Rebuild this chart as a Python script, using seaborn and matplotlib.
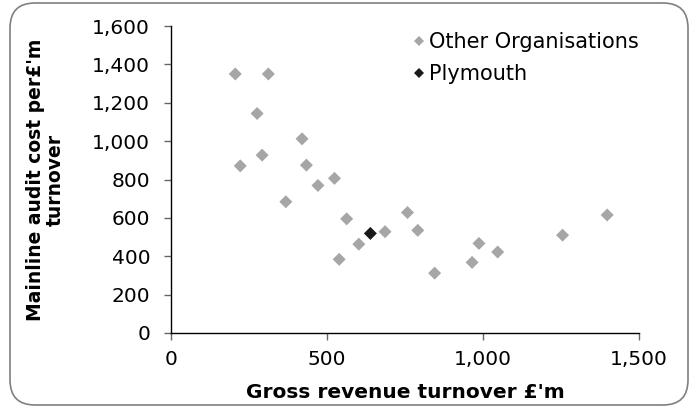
import matplotlib
matplotlib.use('Agg')
import matplotlib.pyplot as plt
import pandas as pd
import seaborn as sns
from matplotlib.patches import FancyBboxPatch
from matplotlib.transforms import IdentityTransform

# Data
other_revenue = [206, 312, 276, 420, 222, 292, 434, 471, 524, 368, 563, 758,
                 539, 602, 686, 791, 845, 965, 987, 1047, 1255, 1398]
other_cost = [1350, 1350, 1144, 1012, 871, 927, 875, 769, 806, 684, 595, 628,
              384, 463, 528, 535, 312, 368, 467, 422, 510, 615]
plymouth_revenue = [639]
plymouth_cost = [519]
series_names = ['Other Organisations', 'Plymouth']
series_colors = ['#a6a6a6', '#1a1a1a']
x_ticks = [0, 500, 1000, 1500]
y_ticks = [0, 200, 400, 600, 800, 1000, 1200, 1400, 1600]

df = pd.DataFrame({
    'revenue': other_revenue + plymouth_revenue,
    'cost': other_cost + plymouth_cost,
    'series': [series_names[0]] * len(other_revenue) + [series_names[1]] * len(plymouth_revenue),
})

sns.set_theme(style='white')
plt.rcParams['font.family'] = ['DejaVu Sans']
plt.rcParams['text.color'] = 'black'
plt.rcParams['axes.labelcolor'] = 'black'
plt.rcParams['xtick.labelcolor'] = 'black'
plt.rcParams['ytick.labelcolor'] = 'black'

fig = plt.figure(figsize=(6.93, 4.07), dpi=100)
ax = fig.add_axes([171 / 693, 1 - 333 / 407, 468 / 693, 307 / 407])

sns.scatterplot(data=df, x='revenue', y='cost', hue='series', hue_order=series_names,
                palette=series_colors, marker='D', s=44, linewidth=0, ax=ax)

ax.set_xlim(0, 1500)
ax.set_ylim(0, 1600)
ax.set_xticks(x_ticks)
ax.set_yticks(y_ticks)
ax.set_xticklabels([f'{v:,}' for v in x_ticks], fontsize=14.5)
ax.set_yticklabels([f'{v:,}' for v in y_ticks], fontsize=14.5)
ax.tick_params(axis='both', direction='out', length=5, width=1, color='#666666',
               bottom=True, left=True)
ax.tick_params(axis='x', pad=7)
ax.tick_params(axis='y', pad=10)

for side in ['top', 'right']:
    ax.spines[side].set_visible(False)
for side in ['left', 'bottom']:
    ax.spines[side].set_color('black')
    ax.spines[side].set_linewidth(1)

ax.set_xlabel("Gross revenue turnover £'m", fontsize=14.5, fontweight='bold', labelpad=10.5)
ax.set_ylabel("Mainline audit cost per£'m\nturnover", fontsize=13.5, fontweight='bold',
              labelpad=20, linespacing=1.0)

leg = ax.legend(loc='upper left', bbox_to_anchor=(400 / 693, 1 - 22 / 407),
                bbox_transform=fig.transFigure, frameon=False, fontsize=15,
                handletextpad=0.1, handlelength=0.8, labelspacing=0.55,
                borderpad=0, markerscale=0.8)

# rounded frame around the whole chart (pixel coordinates)
frame = FancyBboxPatch((10, 2), 678, 402,
                       boxstyle='round,pad=0,rounding_size=25',
                       transform=IdentityTransform(), fill=False,
                       edgecolor='#808080', linewidth=1.2)
fig.patches.append(frame)

fig.savefig('out.png', dpi=100)
